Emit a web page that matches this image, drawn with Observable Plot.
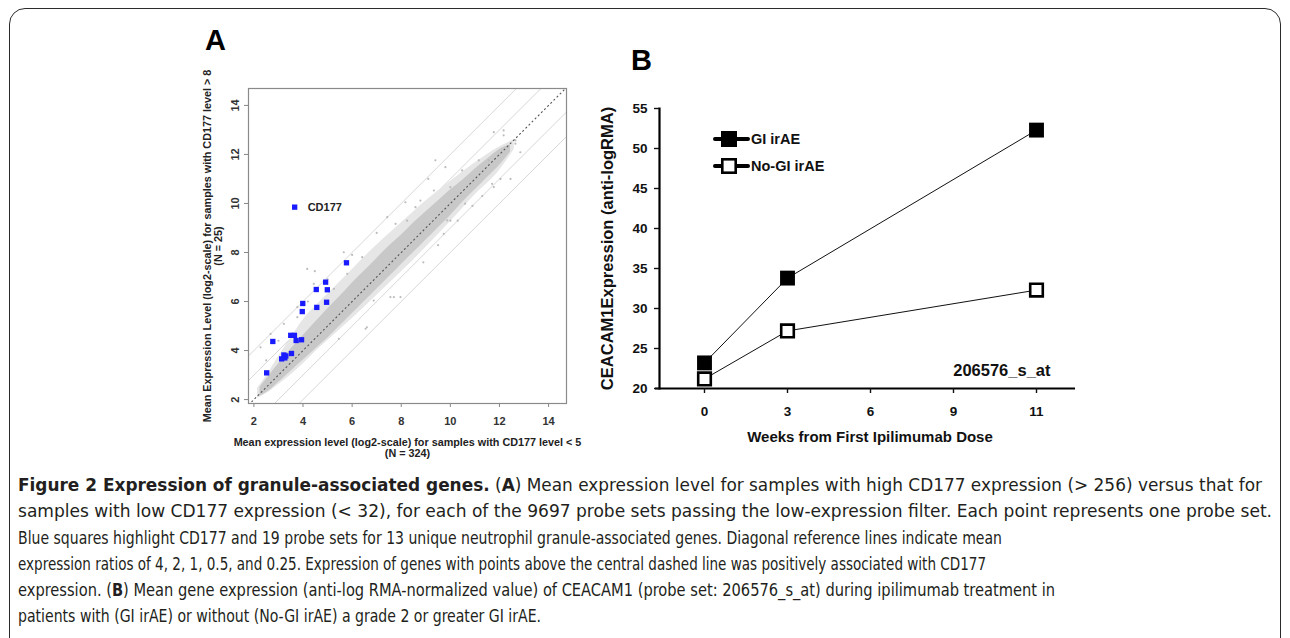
<!DOCTYPE html>
<html><head><meta charset="utf-8">
<script src="https://cdn.jsdelivr.net/npm/d3@7"></script>
<script src="https://cdn.jsdelivr.net/npm/@observablehq/plot@0.6"></script>
<style>
html,body{margin:0;padding:0;background:#fff;width:1290px;height:638px;overflow:hidden;position:relative;}
#box{position:absolute;left:9px;top:8px;width:1272px;height:680px;border:1.4px solid #2b2b2b;border-radius:16px;box-sizing:border-box;}
.lbl{position:absolute;font-family:"Liberation Sans",Arial,sans-serif;font-weight:bold;line-height:1;color:#000;}
.panel{position:absolute;}
.panel svg{overflow:visible;}
#cap{position:absolute;left:18px;top:472px;font-family:"Liberation Sans Narrow","DejaVu Sans Condensed","Liberation Sans",sans-serif;font-size:18px;color:#231f20;}
#cap div{white-space:nowrap;height:26.3px;line-height:26.3px;transform-origin:0 50%;width:max-content;}
#cap b{font-weight:bold;}
</style></head><body>
<div id="box"></div>
<div class="lbl" style="left:205px;top:26px;font-size:29px">A</div>
<div class="lbl" style="left:631px;top:46px;font-size:29px">B</div>
<div id="panelA" class="panel" style="left:150px;top:40px"></div>
<div id="panelB" class="panel" style="left:580px;top:80px"></div>
<div id="cap"></div>
<script>
// ---------- Panel A data ----------
const xTicksA = [2, 4, 6, 8, 10, 12, 14];
const yTicksA = [2, 4, 6, 8, 10, 12, 14];
const refOffsetsLog2 = [2, 1, -1, -2];      // ratios 4, 2, 0.5, 0.25
const centralOffset = [0];                 // ratio 1
const diagSpan = [0, 16];

// sparse halo of probe sets around the diagonal
const haloX    = [2.15, 2.6, 3.0, 3.5, 4.0, 4.5, 5.0, 5.5, 6.0, 7.0, 8.0, 9.0, 10.0, 11.0, 12.0, 12.6];
const haloLow  = [2.05, 2.3, 2.6, 3.0, 3.45, 3.95, 4.4, 4.85, 5.3, 6.25, 7.2, 8.2, 9.25, 10.35, 11.35, 12.2];
const haloHigh = [2.45, 3.1, 3.75, 4.5, 5.25, 5.8, 6.3, 6.8, 7.3, 8.3, 9.2, 10.1, 10.9, 11.65, 12.3, 12.6];

// dense core of probe sets
const coreX    = [2.25, 2.6, 3.0, 3.5, 4.0, 4.5, 5.0, 5.5, 6.0, 6.5, 7.0, 7.5, 8.0, 8.5, 9.0, 9.5, 10.0, 10.5, 11.0, 11.5, 12.0, 12.45];
const coreLow  = [2.15, 2.35, 2.7, 3.15, 3.6, 4.05, 4.5, 5.0, 5.5, 6.0, 6.5, 7.0, 7.5, 8.0, 8.5, 9.0, 9.5, 10.05, 10.55, 11.05, 11.55, 12.1];
const coreHigh = [2.5, 2.95, 3.45, 4.05, 4.6, 5.15, 5.7, 6.2, 6.75, 7.25, 7.75, 8.25, 8.7, 9.2, 9.65, 10.1, 10.55, 10.95, 11.4, 11.8, 12.2, 12.4];

// individually visible gray probe sets
const grayX = [9.39, 9.8, 11.77, 12.17, 12.65, 10.48, 11.16, 11.57, 12.04, 11.7, 10.6, 10.0, 9.73, 8.78, 8.58, 8.24, 9.33, 10.0, 7.56, 7.97, 9.87, 8.17, 7.77, 7.43, 11.77, 6.55, 5.46, 6.88, 4.17, 4.44, 5.8, 6.41, 5.26, 3.77, 3.22, 2.68, 2.27, 3.77, 5.66, 4.48, 6.6, 7.7, 12.17, 12.65, 12.45, 12.85, 9.1, 6.0, 7.0, 5.0, 4.2, 3.0, 2.5, 8.9, 9.5, 10.3, 10.9, 11.3];
const grayY = [11.76, 11.48, 12.91, 12.78, 12.44, 11.35, 11.76, 11.76, 11.0, 10.8, 9.99, 9.3, 8.76, 10.12, 9.85, 9.3, 10.53, 10.67, 6.18, 6.18, 9.31, 10.05, 9.17, 9.44, 10.67, 4.89, 4.48, 6.04, 7.33, 6.72, 7.13, 7.81, 6.52, 5.77, 5.09, 4.68, 4.13, 5.36, 8.01, 7.24, 4.95, 6.18, 12.98, 12.57, 11.0, 12.09, 11.0, 7.9, 8.8, 6.9, 6.0, 4.4, 3.6, 7.6, 8.3, 9.3, 9.9, 10.3];

// highlighted granule-associated probe sets
const probeX = [3.66, 5.77, 4.92, 4.54, 4.99, 3.99, 4.96, 4.56, 3.97, 3.50, 3.65, 3.72, 3.94, 2.77, 3.53, 3.22, 3.26, 3.13, 3.30, 2.52];
const probeY = [9.85, 7.58, 6.79, 6.49, 6.48, 5.92, 5.97, 5.76, 5.59, 4.62, 4.62, 4.41, 4.44, 4.37, 3.88, 3.82, 3.70, 3.66, 3.78, 3.09];
const probeLabel = ["CD177", "", "", "", "", "", "", "", "", "", "", "", "", "", "", "", "", "", "", ""];

const xTitleA = ["Mean expression level (log2-scale) for samples with CD177 level < 5", "(N = 324)"];
const yTitleA = ["Mean Expression Level (log2-scale) for samples with CD177 level > 8", "(N = 25)"];

// ---------- Panel B data ----------
const weekLabels = ["0", "3", "6", "9", "11"];
const sampleWeeks = ["0", "3", "11"];
const giIrAE = [23.2, 33.8, 52.3];
const noGiIrAE = [21.2, 27.2, 32.3];
const groups = ["GI irAE", "No-GI irAE"];
const yTicksB = [20, 25, 30, 35, 40, 45, 50, 55];
const probeSetB = "206576_s_at";
const yTitleB = "CEACAM1Expression (anti-logRMA)";
const xTitleB = "Weeks from First Ipilimumab Dose";

// ---------- Panel A ----------
const halo = haloX.map((x, i) => ({x, lo: haloLow[i], hi: haloHigh[i]}));
const core = coreX.map((x, i) => ({x, lo: coreLow[i], hi: coreHigh[i]}));
const gray = grayX.map((x, i) => ({x, y: grayY[i]}));
const probes = probeX.map((x, i) => ({x, y: probeY[i], label: probeLabel[i]}));
const fontA = "'Liberation Sans', Arial, sans-serif";

const plotA = Plot.plot({
  width: 440, height: 430,
  marginLeft: 98, marginTop: 48, marginRight: 24, marginBottom: 67,
  x: {domain: [1.78, 14.73], label: null},
  y: {domain: [1.84, 14.69], label: null},
  style: {fontFamily: fontA, fontWeight: "bold", fontSize: "11px", color: "#333", background: "transparent", overflow: "visible"},
  marks: [
    Plot.link(refOffsetsLog2, {x1: () => diagSpan[0], x2: () => diagSpan[1], y1: d => diagSpan[0] + d, y2: d => diagSpan[1] + d, stroke: "#d2d2d2", strokeWidth: 0.9, clip: true}),
    Plot.areaY(halo, {x: "x", y1: "lo", y2: "hi", fill: "#e6e6e6", curve: "monotone-x"}),
    Plot.areaY(core, {x: "x", y1: "lo", y2: "hi", fill: "#c8c8c8", curve: "monotone-x"}),
    Plot.dot(gray, {x: "x", y: "y", r: 1.1, fill: "#bcbcbc"}),
    Plot.link(centralOffset, {x1: () => diagSpan[0], x2: () => diagSpan[1], y1: d => diagSpan[0] + d, y2: d => diagSpan[1] + d, stroke: "#555", strokeWidth: 1.1, strokeDasharray: "2,2.4", clip: true}),
    Plot.dot(probes, {x: "x", y: "y", symbol: "square", r: 3, fill: "#1a1aff"}),
    Plot.text(probes.filter(d => d.label), {x: "x", y: "y", text: "label", dx: 13, textAnchor: "start", fontSize: 11, fill: "#222"}),
    Plot.frame({stroke: "#8a8a8a", strokeWidth: 1.2}),
    Plot.axisX({ticks: xTicksA, tickSize: 4, tickPadding: 10, stroke: "#888", fill: "#333", label: null}),
    Plot.axisY({ticks: yTicksA, tickSize: 4, tickFormat: () => "", stroke: "#888", label: null}),
    Plot.text(yTicksA, {y: d => d, text: d => String(d), frameAnchor: "left", dx: -13, rotate: -90, textAnchor: "middle", lineAnchor: "middle", fill: "#333"}),
    Plot.text([xTitleA[0]], {frameAnchor: "bottom", dy: 39, textAnchor: "middle", lineAnchor: "middle", fontSize: 10.8, fill: "#222"}),
    Plot.text([xTitleA[1]], {frameAnchor: "bottom", dy: 50, textAnchor: "middle", lineAnchor: "middle", fontSize: 10.8, fill: "#222"}),
    Plot.text([yTitleA[0]], {frameAnchor: "left", dx: -41, rotate: -90, textAnchor: "middle", lineAnchor: "middle", fontSize: 10.8, fill: "#222"}),
    Plot.text([yTitleA[1]], {frameAnchor: "left", dx: -30, rotate: -90, textAnchor: "middle", lineAnchor: "middle", fontSize: 10.8, fill: "#222"})
  ]
});
document.getElementById("panelA").append(plotA);

// ---------- Panel B ----------
const rows = [];
sampleWeeks.forEach((w, i) => {
  rows.push({week: w, value: giIrAE[i], group: groups[0]});
  rows.push({week: w, value: noGiIrAE[i], group: groups[1]});
});

const plotB = Plot.plot({
  width: 520, height: 370,
  marginLeft: 79, marginTop: 28, marginRight: 20, marginBottom: 62,
  x: {type: "point", domain: weekLabels, padding: 0.536, label: null},
  y: {domain: [20, 55], label: null},
  style: {fontFamily: fontA, fontWeight: "bold", fontSize: "13.5px", color: "#111", background: "transparent", overflow: "visible"},
  marks: [
    Plot.line(rows, {x: "week", y: "value", z: "group", stroke: "#111", strokeWidth: 1}),
    Plot.dot(rows.filter(d => d.group === groups[0]), {x: "week", y: "value", symbol: "square", r: 8.4, fill: "#000"}),
    Plot.dot(rows.filter(d => d.group === groups[1]), {x: "week", y: "value", symbol: "square", r: 7.1, fill: "#fff", stroke: "#000", strokeWidth: 2.6}),
    Plot.ruleY([yTicksB[0]], {stroke: "#000", strokeWidth: 2.2, insetLeft: -4, insetRight: 5}),
    Plot.frame({anchor: "left", stroke: "#000", strokeWidth: 2.2}),
    Plot.axisX({tickSize: 5, tickPadding: 13, strokeWidth: 1.4, label: null}),
    Plot.axisY({ticks: yTicksB, tickSize: 5, tickPadding: 7, strokeWidth: 1.4, label: null}),
    Plot.text([probeSetB], {frameAnchor: "bottom-right", dx: -30, dy: -18, textAnchor: "end", lineAnchor: "middle", fontSize: 16.5, fill: "#111"}),
    Plot.text([yTitleB], {frameAnchor: "left", dx: -52, rotate: -90, textAnchor: "middle", lineAnchor: "middle", fontSize: 16.5, fill: "#111"}),
    Plot.text([xTitleB], {frameAnchor: "bottom", dy: 49, textAnchor: "middle", lineAnchor: "middle", fontSize: 15, fill: "#111"})
  ]
});
document.getElementById("panelB").append(plotB);

// ---------- Panel B legend ----------
const leg = d3.select("body").append("svg")
  .attr("width", 1290).attr("height", 638)
  .attr("style", "position:absolute;left:0;top:0;pointer-events:none");
groups.forEach((g, i) => {
  const y = 139 + i * 27;
  const gg = leg.append("g");
  gg.append("line").attr("x1", 715).attr("x2", 748).attr("y1", y).attr("y2", y)
    .attr("stroke", "#000").attr("stroke-width", 4).attr("stroke-linecap", "round");
  if (i === 0) {
    gg.append("rect").attr("x", 721).attr("y", y - 8).attr("width", 16).attr("height", 16).attr("fill", "#000");
  } else {
    gg.append("rect").attr("x", 722.3).attr("y", y - 6.7).attr("width", 13.4).attr("height", 13.4)
      .attr("fill", "#fff").attr("stroke", "#000").attr("stroke-width", 2.6);
  }
  gg.append("text").attr("x", 751).attr("y", y).attr("dy", "0.36em")
    .attr("font-family", fontA).attr("font-weight", "bold").attr("font-size", 14.5).attr("fill", "#111")
    .text(g);
});

// ---------- Caption ----------
const captionLines = [
  '<b>Figure 2 Expression of granule-associated genes.</b> (<b>A</b>) Mean expression level for samples with high CD177 expression (&gt; 256) versus that for',
  'samples with low CD177 expression (&lt; 32), for each of the 9697 probe sets passing the low-expression filter. Each point represents one probe set.',
  'Blue squares highlight CD177 and 19 probe sets for 13 unique neutrophil granule-associated genes. Diagonal reference lines indicate mean',
  'expression ratios of 4, 2, 1, 0.5, and 0.25. Expression of genes with points above the central dashed line was positively associated with CD177',
  'expression. (<b>B</b>) Mean gene expression (anti-log RMA-normalized value) of CEACAM1 (probe set: 206576_s_at) during ipilimumab treatment in',
  'patients with (GI irAE) or without (No-GI irAE) a grade 2 or greater GI irAE.'
];
const captionWidths = [1244, 1254, 984, 968, 1037, 523];
const cap = document.getElementById("cap");
captionLines.forEach((html, i) => {
  const d = document.createElement("div");
  d.innerHTML = html;
  cap.appendChild(d);
  const w = d.getBoundingClientRect().width;
  d.style.transform = `scaleX(${captionWidths[i] / w})`;
});
</script>
</body></html>
